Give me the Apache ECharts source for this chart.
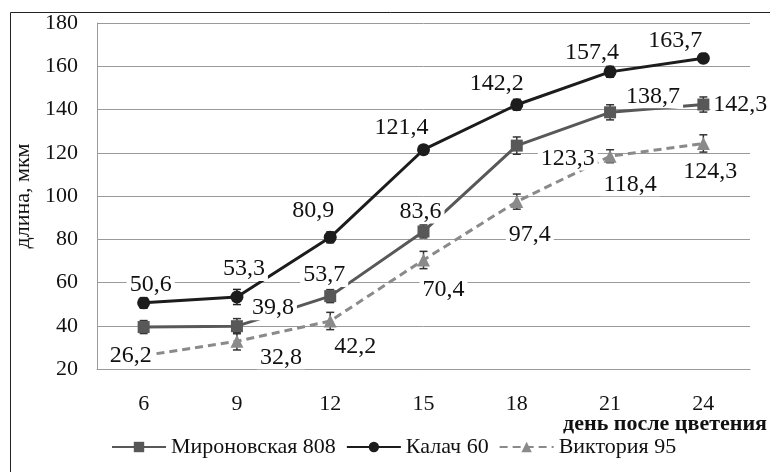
<!DOCTYPE html>
<html>
<head>
<meta charset="utf-8">
<script src="https://cdn.jsdelivr.net/npm/echarts@6/dist/echarts.min.js"></script>
<style>html,body{margin:0;padding:0;background:#fff}#c{width:770px;height:472px}</style>
</head>
<body>
<div id="c"></div>
<script>
// ---- data ----
var days = ['6', '9', '12', '15', '18', '21', '24'];
var seriesNames = ['Мироновская 808', 'Калач 60', 'Виктория 95'];
var mironValues = [39.4, 39.8, 53.7, 83.6, 123.3, 138.7, 142.3];
var kalachValues = [50.6, 53.3, 80.9, 121.4, 142.2, 157.4, 163.7];
var viktValues = [26.2, 32.8, 42.2, 70.4, 97.4, 118.4, 124.3];
var mironErr = [3, 3.5, 3, 3, 4, 3.5, 3.5];
var kalachErr = [2.5, 3.5, 2.5, 2, 2.5, 2.5, 2];
var viktErr = [2, 4, 4, 4, 3.5, 3, 4];
var yTicks = {min: 20, max: 180, step: 20};
var xTitle = 'день после цветения';
var yTitle = 'длина, мкм';

// ---- layout (label placement) ----
var mironLabelOffset = [null, [36, -18], [-6, -21], [-3, -20], [51, 13], [43, -16], [37, 0]];
var kalachLabelOffset = [[7, -18], [7, -28], [-17, -27], [-22, -22], [-20, -21], [-18, -19], [-28, -18]];
var viktLabelOffset = [[-13, 0], [44, 16], [25, 26], [20, 30], [13, 33], [20, 28], [7, 28]];

var FONT = 'Liberation Serif';
var colors = ['#585858', '#1c1c1c', '#8a8a8a'];

function fmt(v) { return String(v).replace('.', ','); }

function buildData(vals, offs) {
  return vals.map(function (v, i) {
    var o = offs[i];
    if (!o) return {value: v, label: {show: false}};
    return {value: v, label: {offset: o}};
  });
}

function errSeries(vals, errs, color) {
  return {
    type: 'custom',
    z: 3,
    silent: true,
    data: vals.map(function (v, i) { return [i, v - errs[i], v + errs[i]]; }),
    renderItem: function (params, api) {
      var lo = api.coord([api.value(0), api.value(1)]);
      var hi = api.coord([api.value(0), api.value(2)]);
      var w = 4;
      var st = {stroke: color, lineWidth: 1.5};
      return {
        type: 'group',
        children: [
          {type: 'line', shape: {x1: lo[0], y1: lo[1], x2: hi[0], y2: hi[1]}, style: st},
          {type: 'line', shape: {x1: lo[0] - w, y1: lo[1], x2: lo[0] + w, y2: lo[1]}, style: st},
          {type: 'line', shape: {x1: hi[0] - w, y1: hi[1], x2: hi[0] + w, y2: hi[1]}, style: st}
        ]
      };
    }
  };
}

var labelStyle = {
  show: true,
  position: 'inside',
  fontFamily: FONT,
  fontSize: 24,
  color: '#111',
  backgroundColor: '#fff',
  padding: [0, 3],
  formatter: function (p) { return fmt(p.value); }
};

var chart = echarts.init(document.getElementById('c'), null, {renderer: 'canvas'});
chart.setOption({
  animation: false,
  backgroundColor: '#fff',
  color: colors,
  graphic: [
    {
      type: 'rect', silent: true, z: 0,
      shape: {x: 10.5, y: 12.5, width: 800, height: 500},
      style: {fill: null, stroke: '#222', lineWidth: 1}
    },
    {
      type: 'text', silent: true, z: 5,
      right: 3, top: 413,
      style: {text: xTitle, font: 'bold 22px Liberation Serif', fill: '#111'}
    }
  ],
  grid: {left: 97, right: 20, top: 23, bottom: 103, containLabel: false, outerBoundsMode: 'none'},
  legend: {
    left: 106, top: 431,
    itemWidth: 54, itemHeight: 13, itemGap: 10,
    data: seriesNames,
    textStyle: {fontFamily: FONT, fontSize: 22, color: '#111'}
  },
  xAxis: {
    type: 'category',
    data: days,
    boundaryGap: true,
    axisLine: {lineStyle: {color: '#9a9a9a', width: 1}},
    axisTick: {show: false},
    axisLabel: {margin: 24, fontFamily: FONT, fontSize: 22, color: '#111'}
  },
  yAxis: {
    type: 'value',
    min: yTicks.min, max: yTicks.max, interval: yTicks.step,
    axisLine: {show: true, lineStyle: {color: '#9a9a9a'}},
    axisTick: {show: false},
    splitLine: {lineStyle: {color: '#9a9a9a', width: 1}},
    axisLabel: {margin: 19, fontFamily: FONT, fontSize: 22, color: '#111'},
    name: yTitle,
    nameLocation: 'middle',
    nameGap: 57,
    nameTextStyle: {fontFamily: FONT, fontSize: 22, color: '#111'}
  },
  series: [
    {
      name: seriesNames[0], type: 'line', z: 4,
      data: buildData(mironValues, mironLabelOffset),
      symbol: 'rect', symbolSize: 12,
      lineStyle: {color: colors[0], width: 3},
      itemStyle: {color: colors[0]},
      label: labelStyle
    },
    {
      name: seriesNames[1], type: 'line', z: 4,
      data: buildData(kalachValues, kalachLabelOffset),
      symbol: 'circle', symbolSize: 13,
      lineStyle: {color: colors[1], width: 3},
      itemStyle: {color: colors[1]},
      label: labelStyle
    },
    {
      name: seriesNames[2], type: 'line', z: 4,
      data: buildData(viktValues, viktLabelOffset),
      symbol: 'triangle', symbolSize: 13,
      lineStyle: {color: colors[2], width: 3, type: [8, 5]},
      itemStyle: {color: colors[2]},
      label: labelStyle
    },
    errSeries(mironValues, mironErr, '#333'),
    errSeries(kalachValues, kalachErr, '#222'),
    errSeries(viktValues, viktErr, '#333')
  ]
});
</script>
</body>
</html>
